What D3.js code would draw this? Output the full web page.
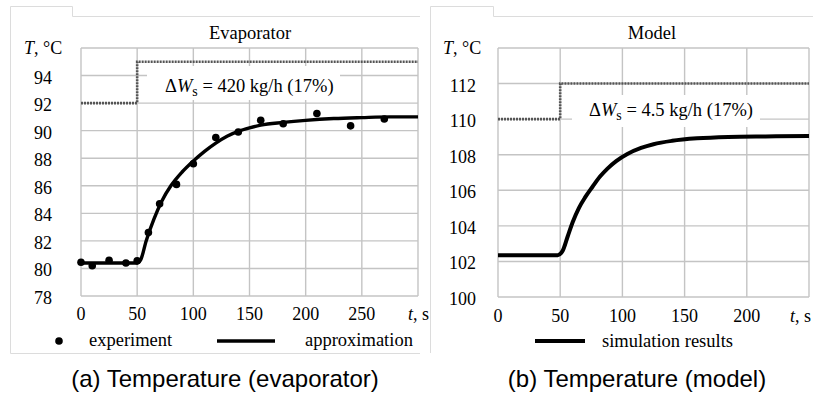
<!DOCTYPE html>
<html>
<head>
<meta charset="utf-8">
<style>
	body { margin: 0; background: #fff; }
	svg text { font-family: "Liberation Serif", "Times New Roman", serif; fill: #000; }
	svg text.cap { font-family: "Liberation Sans", Arial, sans-serif; }
</style>
<script src="https://d3js.org/d3.v7.min.js"></script>
</head>
<body>
<div id="chart"></div>
<script>
	// (a) evaporator: measured points and fitted curve
	const evapExpTime = [0, 10, 25, 40, 50, 60, 70, 85, 100, 120, 140, 160, 180, 210, 240, 270];
	const evapExpTemp = [80.45, 80.2, 80.6, 80.4, 80.55, 82.6, 84.7, 86.1, 87.6, 89.5, 89.9, 90.75, 90.5, 91.25, 90.35, 90.85];
	const evapFitTime = [0, 50, 53, 58, 65, 72, 80, 90, 100, 110, 120, 130, 140, 150, 160, 180, 200, 225, 250, 275, 300];
	const evapFitTemp = [80.4, 80.4, 80.6, 82.0, 83.6, 84.9, 86.0, 87.0, 87.8, 88.5, 89.1, 89.6, 89.95, 90.2, 90.4, 90.6, 90.75, 90.88, 90.95, 91.0, 91.0];
	const evapStepTime = [0, 50, 50, 300];
	const evapStepTemp = [92, 92, 95, 95];
	const evapXTicks = [0, 50, 100, 150, 200, 250];
	const evapYTicks = [78, 80, 82, 84, 86, 88, 90, 92, 94];

	// (b) model: simulation curve
	const modelSimTime = [0, 48, 52, 56, 60, 65, 70, 76, 82, 88, 95, 104, 115, 125, 140, 160, 185, 215, 250];
	const modelSimTemp = [102.35, 102.35, 102.6, 103.4, 104.2, 105.0, 105.6, 106.2, 106.77, 107.22, 107.64, 108.04, 108.38, 108.59, 108.78, 108.92, 109.0, 109.03, 109.05];
	const modelStepTime = [0, 50, 50, 250];
	const modelStepTemp = [110, 110, 112, 112];
	const modelXTicks = [0, 50, 100, 150, 200];
	const modelYTicks = [100, 102, 104, 106, 108, 110, 112];

	const W = 813, H = 394;
	const svg = d3.select("#chart").append("svg")
		.attr("width", W)
		.attr("height", H);

	function drawPanel(p) {
		const g = svg.append("g");
		const x = d3.scaleLinear().domain(p.xDomain).range([p.left, p.right]);
		const y = d3.scaleLinear().domain(p.yDomain).range([p.bottom, p.top]);

		// light frame around the panel picture
		g.append("path")
			.attr("d", p.frame)
			.attr("fill", "none")
			.attr("stroke", "#dcdcdc")
			.attr("stroke-width", 1);

		// grid
		const gridX = d3.range(p.xDomain[0], p.xDomain[1] + 1, 50);
		const gridY = d3.range(p.yDomain[0], p.yDomain[1] + 0.1, 2);
		g.selectAll(".gx").data(gridX).enter().append("line")
			.attr("x1", d => x(d)).attr("x2", d => x(d))
			.attr("y1", p.top).attr("y2", p.bottom)
			.attr("stroke", "#c4c4c4").attr("stroke-width", 1.4);
		g.selectAll(".gy").data(gridY).enter().append("line")
			.attr("x1", p.left).attr("x2", p.right)
			.attr("y1", d => y(d)).attr("y2", d => y(d))
			.attr("stroke", "#c4c4c4").attr("stroke-width", 1.4);

		// step of steam flow (dotted)
		const stepPts = p.stepTime.map((t, i) => [t, p.stepTemp[i]]);
		g.append("path")
			.attr("d", d3.line().x(d => x(d[0])).y(d => y(d[1]))(stepPts))
			.attr("fill", "none")
			.attr("stroke", "#555")
			.attr("stroke-width", 2.6)
			.attr("stroke-dasharray", "2,1");

		// annotation box
		g.append("rect")
			.attr("x", p.box[0]).attr("y", p.box[1])
			.attr("width", p.box[2]).attr("height", p.box[3])
			.attr("fill", "#fff");
		const ann = g.append("text")
			.attr("x", p.annX).attr("y", p.annY)
			.attr("font-size", 18.5);
		ann.append("tspan").text("\u0394");
		ann.append("tspan").attr("font-style", "italic").text("W");
		ann.append("tspan").attr("font-size", 14).attr("dy", 4).text("s");
		ann.append("tspan").attr("dy", -4).text(" = " + p.annText);

		// axes labels
		g.selectAll(".yl").data(p.yTicks).enter().append("text")
			.attr("x", p.yLabelX)
			.attr("y", d => y(d) + 8)
			.attr("text-anchor", "end")
			.attr("font-size", 18)
			.text(d => d);
		g.selectAll(".xl").data(p.xTicks).enter().append("text")
			.attr("x", d => x(d))
			.attr("y", p.xLabelY)
			.attr("text-anchor", "middle")
			.attr("font-size", 18)
			.text(d => d);

		const tl = g.append("text")
			.attr("x", p.tUnitX).attr("y", p.xLabelY)
			.attr("font-size", 18);
		tl.append("tspan").attr("font-style", "italic").text("t");
		tl.append("tspan").text(", s");

		const yl = g.append("text")
			.attr("x", p.yUnitX).attr("y", 54)
			.attr("font-size", 18);
		yl.append("tspan").attr("font-style", "italic").text("T");
		yl.append("tspan").text(", \u00B0C");

		g.append("text")
			.attr("x", p.titleX).attr("y", 39)
			.attr("text-anchor", "middle")
			.attr("font-size", 18.5)
			.text(p.title);

		return {g: g, x: x, y: y};
	}

	// ---------- panel (a)
	const a = drawPanel({
		xDomain: [0, 300], yDomain: [78, 96],
		left: 81, right: 418, top: 48, bottom: 296,
		frame: "M10.5,353.5 V6.5 H72.5 V16.5 H420",
		stepTime: evapStepTime, stepTemp: evapStepTemp,
		box: [147, 66, 193, 34], annX: 165, annY: 92, annText: "420 kg/h (17%)",
		yTicks: evapYTicks, xTicks: evapXTicks,
		yLabelX: 52, xLabelY: 320, tUnitX: 408, yUnitX: 24,
		titleX: 250, title: "Evaporator"
	});
	svg.append("path").attr("d", "M10.5,353.5 H420")
		.attr("stroke", "#dcdcdc").attr("stroke-width", 1);

	const fitPts = evapFitTime.map((t, i) => [t, evapFitTemp[i]]);
	a.g.append("path")
		.attr("d", d3.line().curve(d3.curveMonotoneX).x(d => a.x(d[0])).y(d => a.y(d[1]))(fitPts))
		.attr("fill", "none")
		.attr("stroke", "#000")
		.attr("stroke-width", 3.4);

	a.g.selectAll(".pt").data(evapExpTime).enter().append("circle")
		.attr("cx", d => a.x(d))
		.attr("cy", (d, i) => a.y(evapExpTemp[i]))
		.attr("r", 3.8)
		.attr("fill", "#000");

	// legend (a)
	a.g.append("circle").attr("cx", 59).attr("cy", 341).attr("r", 3.8).attr("fill", "#000");
	a.g.append("text").attr("x", 89).attr("y", 346).attr("font-size", 18.5).text("experiment");
	a.g.append("line").attr("x1", 217).attr("x2", 275).attr("y1", 341).attr("y2", 341)
		.attr("stroke", "#000").attr("stroke-width", 3.4);
	a.g.append("text").attr("x", 305).attr("y", 346).attr("font-size", 18.5).text("approximation");

	// ---------- panel (b)
	const b = drawPanel({
		xDomain: [0, 250], yDomain: [100, 114],
		left: 498, right: 809, top: 48, bottom: 297,
		frame: "M430.5,353 V6.5 H493.5 V16.5 H813",
		stepTime: modelStepTime, stepTemp: modelStepTemp,
		box: [572, 95, 188, 32], annX: 589, annY: 116, annText: "4.5 kg/h (17%)",
		yTicks: modelYTicks, xTicks: modelXTicks,
		yLabelX: 476, xLabelY: 322, tUnitX: 790, yUnitX: 443,
		titleX: 652, title: "Model"
	});

	const simPts = modelSimTime.map((t, i) => [t, modelSimTemp[i]]);
	b.g.append("path")
		.attr("d", d3.line().curve(d3.curveMonotoneX).x(d => b.x(d[0])).y(d => b.y(d[1]))(simPts))
		.attr("fill", "none")
		.attr("stroke", "#000")
		.attr("stroke-width", 4);

	b.g.append("line").attr("x1", 535).attr("x2", 585).attr("y1", 341).attr("y2", 341)
		.attr("stroke", "#000").attr("stroke-width", 4);
	b.g.append("text").attr("x", 602).attr("y", 347).attr("font-size", 18.5).text("simulation results");

	// captions
	svg.append("text").attr("class", "cap")
		.attr("x", 225).attr("y", 387)
		.attr("text-anchor", "middle")
		.attr("font-size", 24)
		.text("(a) Temperature (evaporator)");
	svg.append("text").attr("class", "cap")
		.attr("x", 637).attr("y", 387)
		.attr("text-anchor", "middle")
		.attr("font-size", 24)
		.text("(b) Temperature (model)");
</script>
</body>
</html>
